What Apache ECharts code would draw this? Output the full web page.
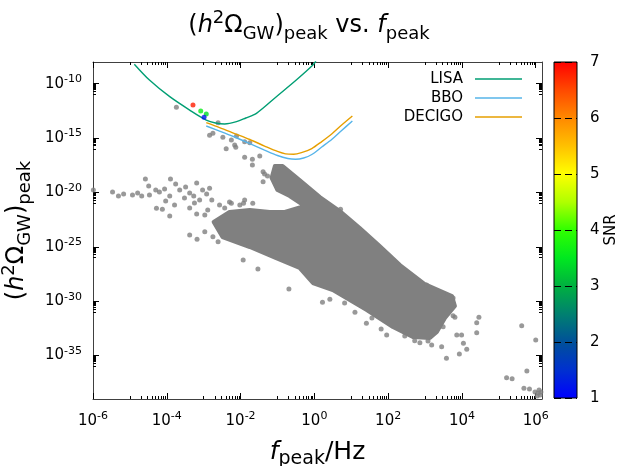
<!DOCTYPE html>
<html><head><meta charset="utf-8">
<script src="https://cdn.jsdelivr.net/npm/echarts@6/dist/echarts.min.js"></script>
<style>html,body{margin:0;padding:0;background:#fff}#c{width:618px;height:466px}</style>
</head><body><div id="c"></div>
<script>
// ---- tick labels (log10 exponents) ----
const xTickExps = [-6, -4, -2, 0, 2, 4, 6];
const yTickExps = [-35, -30, -25, -20, -15, -10];
const snrTicks = [1, 2, 3, 4, 5, 6, 7];

// ---- sensitivity curves: log10(f/Hz), log10(h^2 Omega) ----
const lisaLogF     = [-4.88, -4.47, -3.92, -3.38, -2.93, -2.68, -2.43, -2.11, -1.86, -1.57, -1.03, -0.49, -0.04, 0.04];
const lisaLogOmega = [-8.2, -9.66, -11.19, -12.42, -13.34, -13.61, -13.70, -13.49, -13.15, -12.72, -11.19, -9.66, -8.28, -7.91];
const bboLogF      = [-2.93, -2.57, -2.16, -1.75, -1.35, -1.00, -0.72, -0.51, -0.29, -0.07, 0.20, 0.47, 0.74, 1.03];
const bboLogOmega  = [-13.89, -14.35, -14.90, -15.50, -16.10, -16.60, -16.88, -16.95, -16.83, -16.51, -15.82, -15.13, -14.30, -13.43];
const decigoLogF     = [-2.93, -2.57, -2.16, -1.75, -1.35, -1.00, -0.78, -0.56, -0.35, -0.07, 0.20, 0.47, 0.74, 1.03];
const decigoLogOmega = [-13.58, -14.03, -14.58, -15.13, -15.73, -16.23, -16.45, -16.48, -16.33, -15.96, -15.32, -14.62, -13.80, -12.97];

// ---- dense part of the gray point cloud (outline) ----
const cloudLogF     = [-2.73, -2.30, -1.75, -1.21, -0.80, -0.26, -0.67, -1.00, -1.16, -1.07, -0.86, -0.40, 0.15, 0.69, 1.23, 1.77, 2.32, 2.99, 3.73, 3.81, 3.54, 3.32, 3.13, 2.67, 2.13, 1.42, 0.50, -0.04, -0.40, -1.05, -1.75, -2.49];
const cloudLogOmega = [-22.72, -21.80, -21.62, -21.80, -21.80, -21.25, -20.33, -19.78, -18.67, -17.57, -17.57, -18.86, -20.42, -21.71, -23.27, -24.93, -26.68, -28.42, -29.53, -30.45, -31.55, -32.84, -33.39, -33.30, -32.38, -30.82, -28.98, -28.33, -26.95, -26.03, -25.02, -24.10];

// ---- individual gray points ----
const grayLogF = [-5.99, -5.47, -5.31, -4.93, -4.79, -4.58, -4.49, -4.30, -4.20, -4.06, -3.90, -3.76, -3.65, -3.49, -3.38, -3.27, -3.19, -3.03, -2.92, -2.84, -2.78, -3.25, -3.11, -3.52, -3.92, -3.79, -3.38, -3.19, -2.97, -2.89, -2.57, -2.30, -2.02, -1.89, -1.67, -4.03, -4.47, -4.68, -5.17, -3.92, -4.28, -4.12, -3.38, -3.18, -2.97, -2.75, -2.61, -1.93, -1.53, -0.69, -1.92, -2.25, -1.39, -1.35, -1.39,
  -3.74, -2.61, -2.84, -2.75, -2.48, -2.39, -2.25, -2.11, -2.16, -2.13, -1.89, -1.75, -1.89, -1.68, -1.48, -1.68, -1.27, -0.99,
  0.22, 0.42, 1.10, 1.41, 1.81, 1.96, 2.72, 2.86, 3.18, 3.45, 3.58, 3.93, 4.13, 4.04, 3.86, 3.99, 3.49, 3.76, 3.81, 4.40, 4.46, 4.40, 3.49, 3.76, 3.04, 0.71,
  0.82, 1.56, 2.45, 3.08, -2.43,
  5.62, 6.00, 5.76, 5.21, 5.36, 5.68, 5.83, 5.98, 6.06, 6.12, 6.04, 6.14, 6.09];
const grayLogOmega = [-19.78, -19.96, -20.33, -20.24, -20.05, -18.76, -19.41, -19.78, -19.96, -19.68, -18.76, -19.22, -19.78, -19.50, -20.05, -20.33, -19.13, -19.78, -20.14, -19.62, -20.70, -20.97, -20.70, -20.51, -20.33, -21.16, -21.43, -21.98, -22.08, -21.62, -21.16, -20.88, -21.16, -20.70, -21.00, -20.79, -20.24, -20.33, -20.14, -22.17, -21.46, -21.55, -23.92, -24.31, -23.61, -24.07, -24.53, -26.22, -27.04, -28.88, -21.00, -21.00, -19.01, -18.30, -18.09,
  -12.17, -13.58, -14.74, -14.56, -14.93, -15.98, -15.18, -14.81, -15.64, -15.85, -15.33, -15.42, -16.77, -16.95, -16.65, -17.48, -18.49, -17.69,
  -30.11, -29.83, -31.03, -32.04, -32.56, -33.11, -33.64, -33.82, -34.03, -34.19, -35.26, -34.86, -34.43, -33.88, -33.11, -33.11, -32.35, -31.34, -31.49, -31.98, -31.49, -32.90, -29.34, -29.71, -28.51, -21.55,
  -30.17, -31.55, -33.21, -33.67, -21.43,
  -32.26, -33.57, -36.43, -37.04, -37.14, -38.02, -38.08, -38.36, -38.45, -38.63, -38.73, -38.36, -38.17];

// ---- points coloured by SNR ----
const snrLogF     = [-3.29, -3.08, -2.93, -2.99];
const snrLogOmega = [-11.96, -12.51, -12.78, -13.09];
const snrValues   = [6.8, 3.6, 3.4, 1.2];

// ---- palette of the SNR colour bar (from 1 to 7) ----
const cbColors = ['#0000ff', '#0030d0', '#00509a', '#008070', '#00b040', '#00e820', '#30ff00', '#b0ff00', '#ffff00', '#ffc000', '#ff8800', '#ff4800', '#ff0000'];

const X_MIN = -6, X_MAX = 6.17, Y_MIN = -39, Y_MAX = -8;
const FONT = 'DejaVu Sans';

function minorTicks(majors, lo, hi) {
  const out = [];
  majors.forEach(m => { for (let k = 1; k <= 9; k++) { const v = m - 1 + Math.log10(k); if (v > lo && v < hi) out.push(v); } });
  return out;
}
const xMinor = minorTicks(xTickExps, X_MIN, X_MAX);
const yMinor = minorTicks(yTickExps, Y_MIN, Y_MAX);

const tickRich = {
  b: { fontSize: 15, lineHeight: 20, fontFamily: FONT, color: '#000' },
  s: { fontSize: 11, lineHeight: 11, verticalAlign: 'top', fontFamily: FONT, color: '#000' }
};
const pow10 = v => '{b|10}{s|' + Math.round(v) + '}';

function axis(kind, pos, major, labels) {
  const isX = kind === 'x';
  return {
    type: 'value', gridIndex: 0, position: pos,
    min: isX ? X_MIN : Y_MIN, max: isX ? X_MAX : Y_MAX,
    axisLine: { show: major, onZero: false, lineStyle: { color: '#404040', width: 1 } },
    axisTick: { show: true, inside: true, length: major ? 6 : 3, customValues: major ? (isX ? xTickExps : yTickExps) : (isX ? xMinor : yMinor), lineStyle: { color: '#000', width: 1 } },
    axisLabel: { show: labels, customValues: isX ? xTickExps : yTickExps, formatter: pow10, margin: isX ? 12 : 11, rich: tickRich },
    splitLine: { show: false }
  };
}

function richSet(main, sub, lh) {
  return {
    n: { fontSize: main, lineHeight: lh, fontFamily: FONT, fontWeight: 'normal', color: '#000' },
    i: { fontSize: main, lineHeight: lh, fontFamily: FONT, fontWeight: 'normal', fontStyle: 'italic', color: '#000' },
    sup: { fontSize: sub, lineHeight: lh * 0.65, verticalAlign: 'top', fontFamily: FONT, fontWeight: 'normal', color: '#000' },
    sub: { fontSize: sub, lineHeight: lh * 0.6, verticalAlign: 'bottom', fontFamily: FONT, fontWeight: 'normal', color: '#000' }
  };
}

const xAxes = [axis('x', 'bottom', true, true), axis('x', 'bottom', false, false), axis('x', 'top', true, false), axis('x', 'top', false, false)];
xAxes[0].name = '{i|f}{sub|peak}{n|/Hz}';
xAxes[0].nameLocation = 'middle';
xAxes[0].nameGap = 36;
xAxes[0].nameTextStyle = { rich: richSet(25, 19, 34) };
const yAxes = [axis('y', 'left', true, true), axis('y', 'left', false, false), axis('y', 'right', true, false), axis('y', 'right', false, false)];
yAxes[0].name = '{n|(}{i|h}{sup|2}{n|Ω}{sub|GW}{n|)}{sub|peak}';
yAxes[0].nameLocation = 'middle';
yAxes[0].nameRotate = 90;
yAxes[0].nameGap = 47;
yAxes[0].nameTextStyle = { rich: richSet(24, 18, 34) };

// colour-bar axes
xAxes.push({ type: 'value', gridIndex: 1, min: 0, max: 1, show: false });
yAxes.push({
  type: 'value', gridIndex: 1, position: 'right', min: snrTicks[0], max: snrTicks[snrTicks.length - 1], interval: 1,
  axisLine: { show: false }, axisTick: { show: false },
  axisLabel: { margin: 13, fontSize: 15, fontFamily: FONT, color: '#000' },
  splitLine: { show: true, lineStyle: { color: '#000', width: 1, type: [7, 4] } },
  name: 'SNR', nameLocation: 'middle', nameRotate: 90, nameGap: 24,
  nameTextStyle: { fontSize: 15, fontFamily: FONT, color: '#000' }
});

const chart = echarts.init(document.getElementById('c'), null, { renderer: 'canvas' });
chart.setOption({
  animation: false,
  backgroundColor: '#fff',
  title: {
    text: '{n|(}{i|h}{sup|2}{n|Ω}{sub|GW}{n|)}{sub|peak}{n| vs. }{i|f}{sub|peak}',
    left: 'center', top: 9, padding: 0,
    textStyle: { fontWeight: 'normal', rich: richSet(24, 18, 34) }
  },
  grid: [
    { left: 93, right: 76, top: 62, bottom: 67, containLabel: false, outerBoundsMode: 'none' },
    { left: 554, top: 62, width: 23, height: 336, show: true, borderColor: '#000', borderWidth: 1, containLabel: false, outerBoundsMode: 'none',
      backgroundColor: { type: 'linear', x: 0, y: 1, x2: 0, y2: 0, colorStops: cbColors.map((c, i) => ({ offset: i / (cbColors.length - 1), color: c })) } }
  ],
  xAxis: xAxes,
  yAxis: yAxes,
  legend: {
    data: ['LISA', 'BBO', 'DECIGO'], orient: 'vertical', right: 96, top: 69.5, align: 'right',
    icon: 'rect', itemWidth: 47, itemHeight: 1.5, itemGap: 0, padding: 0,
    textStyle: { fontSize: 15, lineHeight: 19, fontFamily: FONT, color: '#000', padding: [0, 7, 0, 0] }
  },
  visualMap: { show: false, type: 'continuous', min: 1, max: 7, dimension: 2, seriesIndex: 5, inRange: { color: cbColors } },
  series: [
    { type: 'custom', xAxisIndex: 0, yAxisIndex: 0, clip: true, silent: true,
      data: cloudLogF.map((x, i) => [x, cloudLogOmega[i]]),
      renderItem: function (params, api) {
        if (params.dataIndex !== 0) return null;
        const pts = cloudLogF.map((x, i) => api.coord([x, cloudLogOmega[i]]));
        return { type: 'polygon', shape: { points: pts }, style: { fill: '#808080', stroke: '#808080', lineWidth: 4, lineJoin: 'round' } };
      }, z: 2 },
    { type: 'scatter', xAxisIndex: 0, yAxisIndex: 0, symbol: 'circle', symbolSize: 5,
      itemStyle: { color: '#808080' }, data: grayLogF.map((x, i) => [x, grayLogOmega[i]]), z: 2 },
    { name: 'LISA', type: 'line', xAxisIndex: 0, yAxisIndex: 0, symbol: 'none', smooth: 0.3,
      lineStyle: { color: '#009e73', width: 1.4 }, itemStyle: { color: '#009e73' }, data: lisaLogF.map((x, i) => [x, lisaLogOmega[i]]), z: 3 },
    { name: 'BBO', type: 'line', xAxisIndex: 0, yAxisIndex: 0, symbol: 'none', smooth: 0.3,
      lineStyle: { color: '#56b4e9', width: 1.4 }, itemStyle: { color: '#56b4e9' }, data: bboLogF.map((x, i) => [x, bboLogOmega[i]]), z: 3 },
    { name: 'DECIGO', type: 'line', xAxisIndex: 0, yAxisIndex: 0, symbol: 'none', smooth: 0.3,
      lineStyle: { color: '#e69f00', width: 1.4 }, itemStyle: { color: '#e69f00' }, data: decigoLogF.map((x, i) => [x, decigoLogOmega[i]]), z: 3 },
    { type: 'scatter', xAxisIndex: 0, yAxisIndex: 0, symbol: 'circle', symbolSize: 5,
      data: snrLogF.map((x, i) => [x, snrLogOmega[i], snrValues[i]]), z: 4 }
  ]
});
</script></body></html>
